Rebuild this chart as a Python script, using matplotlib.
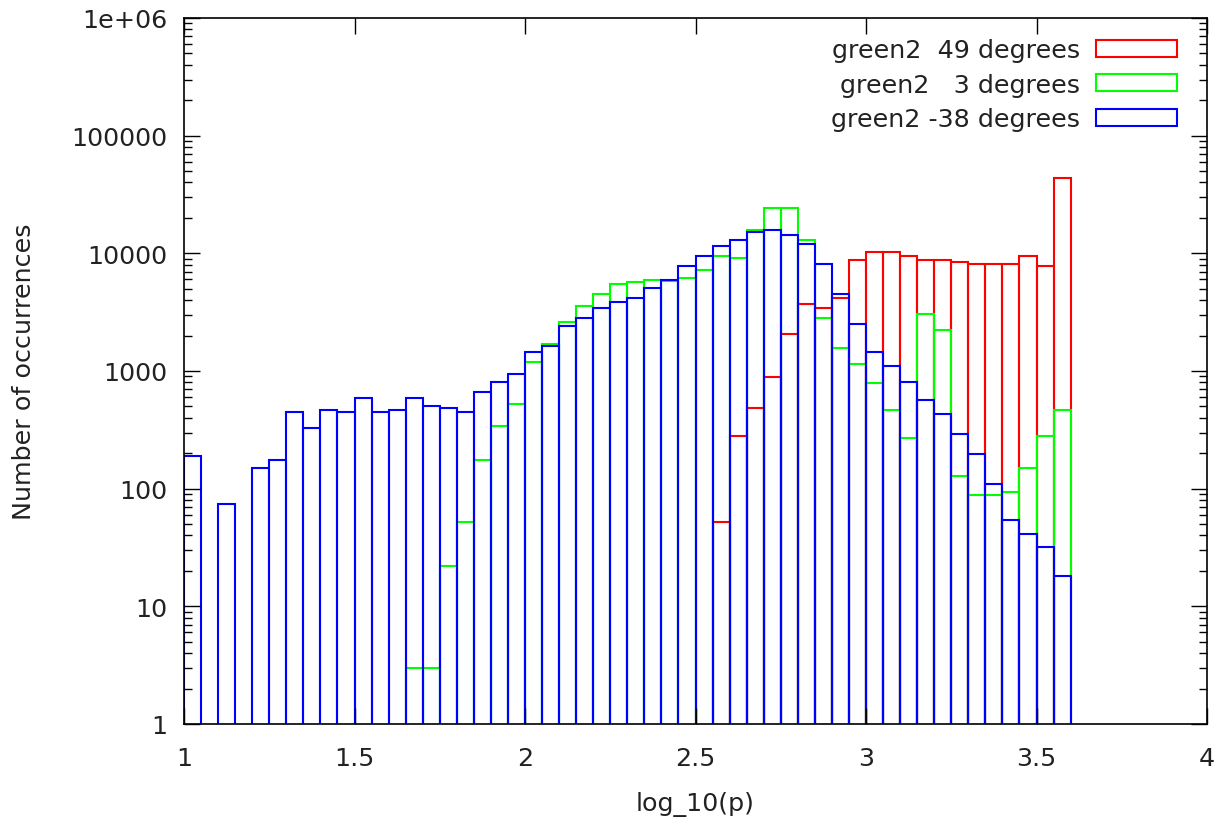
import numpy as np
import matplotlib
matplotlib.use('Agg')
import matplotlib.pyplot as plt
from matplotlib.patches import Patch
from matplotlib.ticker import LogLocator, NullFormatter

# histogram bins: log_10(p) from 1.0 to 3.6, width 0.05
bin_start = 1.0
bin_width = 0.05

# counts per bin (0 = empty bin)
counts_49 = [0, 0, 0, 0, 0, 0, 0, 0, 0, 0,
             0, 0, 0, 0, 0, 0, 0, 0, 0, 0,
             0, 0, 0, 0, 0, 0, 0, 0, 0, 0,
             0, 52, 281, 482, 897, 2045, 3690, 3453, 4197, 8810,
             10230, 10230, 9420, 8740, 8740, 8420, 8110, 8110, 8110, 9490,
             7870, 43700]
counts_3 = [0, 0, 0, 0, 0, 0, 0, 0, 0, 0,
            0, 0, 0, 3, 3, 22, 52, 175, 339, 523,
            1202, 1695, 2600, 3557, 4488, 5495, 5703, 5920, 5800, 6150,
            7190, 9490, 9070, 15670, 24200, 24200, 12900, 2820, 1560, 1140,
            784, 464, 269, 3040, 2220, 127, 89, 89, 93, 150,
            281, 464]
counts_m38 = [189, 0, 74, 0, 150, 175, 447, 326, 464, 447,
              590, 447, 464, 590, 504, 482, 447, 660, 808, 945,
              1460, 1622, 2410, 2820, 3428, 3864, 4197, 5097, 5900, 7870,
              9490, 11620, 13000, 15100, 15790, 14430, 12060, 8110, 4488, 2502,
              1460, 1098, 808, 568, 431, 292, 196, 109, 54, 41,
              32, 18]

labels = ['green2  49 degrees', 'green2   3 degrees', 'green2 -38 degrees']
colors = ['#ff0000', '#00ff00', '#0000ff']

y_ticks = [1, 10, 100, 1000, 10000, 100000, 1000000]
y_tick_labels = ['1', '10', '100', '1000', '10000', '100000', '1e+06']
x_ticks = [1, 1.5, 2, 2.5, 3, 3.5, 4]
x_tick_labels = ['1', '1.5', '2', '2.5', '3', '3.5', '4']

plt.rcParams['font.family'] = ['DejaVu Sans']
fs = 18.3

fig = plt.figure(figsize=(12.21, 8.29), dpi=100)
ax = fig.add_axes([184 / 1221, 1 - 725 / 829, (1207 - 184) / 1221, (725 - 19) / 829])

handles = []
for counts, col, lab in zip([counts_49, counts_3, counts_m38], colors, labels):
  counts = np.array(counts, dtype=float)
  edges = bin_start + bin_width * np.arange(len(counts))
  m = counts > 0
  ax.bar(edges[m], counts[m], width=bin_width, align='edge',
         fill=False, edgecolor=col, linewidth=1.5)
  handles.append(Patch(facecolor='none', edgecolor=col, linewidth=1.5, label=lab))

ax.set_yscale('log')
ax.set_xlim(1, 4)
ax.set_ylim(1, 1e6)
ax.set_yticks(y_ticks)
ax.set_yticklabels(y_tick_labels)
ax.yaxis.set_minor_locator(LogLocator(base=10, subs=np.arange(2, 10), numticks=20))
ax.yaxis.set_minor_formatter(NullFormatter())
ax.set_xticks(x_ticks)
ax.set_xticklabels(x_tick_labels)

ax.tick_params(axis='both', which='both', direction='in', top=True, right=True,
               labelsize=fs, color='black', labelcolor='#222222')
ax.tick_params(axis='both', which='major', length=11.5, width=1.0)
ax.tick_params(axis='both', which='minor', length=5.8, width=1.0)
ax.tick_params(axis='x', pad=16)
ax.tick_params(axis='y', pad=12)
for s in ax.spines.values():
  s.set_linewidth(1.2)

ax.set_xlabel('log_10(p)', fontsize=fs, labelpad=15, color='#222222')
ax.set_ylabel('Number of occurrences', fontsize=fs, labelpad=25, color='#222222')

leg = ax.legend(handles=handles, loc='upper right', bbox_to_anchor=(1 - 30 / 1023, 1 - 20 / 706),
                borderaxespad=0, borderpad=0, frameon=False, markerfirst=False,
                fontsize=fs, handlelength=3.2, handleheight=0.66, handletextpad=0.6,
                labelspacing=0.42)
for t in leg.get_texts():
  t.set_color('#222222')

fig.savefig('out.png', dpi=100)
